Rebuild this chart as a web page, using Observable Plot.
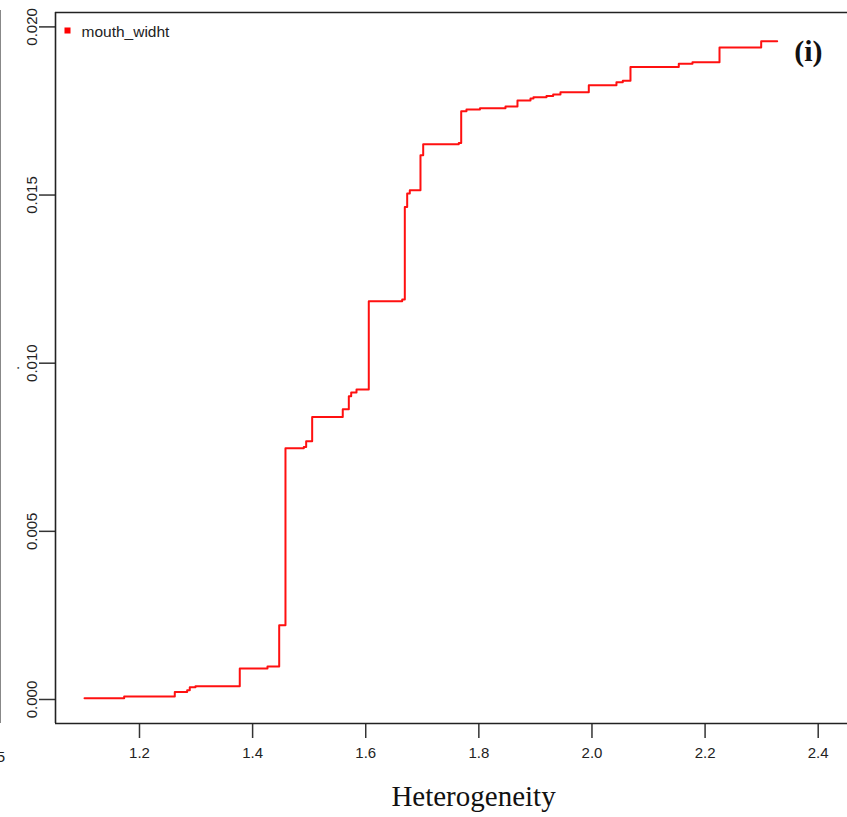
<!DOCTYPE html>
<html><head><meta charset="utf-8">
<script src="https://cdn.jsdelivr.net/npm/d3@7"></script>
<script src="https://cdn.jsdelivr.net/npm/@observablehq/plot@0.6"></script>
<style>
html,body{margin:0;padding:0;background:#fff;overflow:hidden;}
#wrap{position:relative;width:847px;height:817px;overflow:hidden;}
#edge{position:absolute;left:0;top:10px;width:0;height:713px;border-left:1.5px solid #888;}
#neighbor{position:absolute;right:842px;top:748px;font:15px "Liberation Sans",Arial,sans-serif;color:#222;white-space:nowrap;}
</style></head><body><div id="wrap"><div id="edge"></div><div id="neighbor">2.5</div></div>
<script>
const seriesName = "mouth_widht";
const heterogeneity = [1.1028,1.1729,1.2624,1.2843,1.2889,1.2990,1.3773,1.4263,1.4470,1.4581,1.4905,1.4947,1.5053,1.5594,1.5701,1.5743,1.5837,1.6054,1.6645,1.6691,1.6733,1.6779,1.6968,1.7016,1.7645,1.7688,1.7781,1.8020,1.8471,1.8683,1.8913,1.8966,1.9196,1.9314,1.9443,1.9944,2.0433,2.0545,2.0681,2.1535,2.1777,2.2255,2.2992,2.3275];
const mouthWidht = [0.000039,0.000089,0.000226,0.000277,0.000366,0.000395,0.000922,0.000981,0.002209,0.007473,0.007511,0.007681,0.008403,0.008632,0.009019,0.009129,0.009218,0.011844,0.011894,0.014648,0.015046,0.015144,0.016185,0.016512,0.016551,0.017493,0.017544,0.017583,0.017633,0.017812,0.017871,0.017910,0.017948,0.017990,0.018058,0.018267,0.018356,0.018400,0.018811,0.018906,0.018951,0.019387,0.019575,0.019575];
const xTicks = [1.2,1.4,1.6,1.8,2.0,2.2,2.4];
const yTicks = [0,0.005,0.010,0.015,0.020];
const xLabel = "Heterogeneity";
const yLabel = ".";
const panelTag = "(i)";

const xDomain = [1.0515, 2.4518];
const yDomain = [-0.000714, 0.020428];
const data = heterogeneity.map((x, i) => ({x, y: mouthWidht[i]}));

const plot = Plot.plot({
  width: 847, height: 817,
  marginLeft: 55, marginRight: 0, marginTop: 12, marginBottom: 94,
  style: {fontFamily: '"Liberation Sans", Arial, sans-serif', fontSize: "15px", color: "#222", background: "transparent", overflow: "visible"},
  x: {domain: xDomain},
  y: {domain: yDomain},
  marks: [
    Plot.axisX({ticks: xTicks, tickFormat: d3.format(".1f"), tickSize: 15, tickPadding: 9, fontSize: 15, strokeWidth: 1.5, stroke: "#333", fill: "#222", label: null}),
    Plot.axisY({ticks: yTicks, tickFormat: d3.format(".3f"), tickSize: 16, tickPadding: 3, tickRotate: -90, fontSize: 15, strokeWidth: 1.5, stroke: "#333", fill: "#222", label: null}),
    Plot.ruleX([xDomain[0]], {stroke: "#222", strokeWidth: 1.6}),
    Plot.ruleY([yDomain[0], yDomain[1]], {stroke: "#222", strokeWidth: 1.6}),
    Plot.line(data, {x: "x", y: "y", curve: "step-after", stroke: "#ff1010", strokeWidth: 2}),
    Plot.dot([seriesName], {frameAnchor: "top-left", dx: 12, dy: 18, symbol: "square", r: 3.4, fill: "#ff0000", stroke: "none"}),
    Plot.text([seriesName], {frameAnchor: "top-left", dx: 26, dy: 20, textAnchor: "start", lineAnchor: "middle", fontSize: 15.5, fill: "#222"}),
    Plot.text([panelTag], {frameAnchor: "top-right", dx: -25, dy: 27, textAnchor: "end", fontFamily: '"Liberation Serif", "Times New Roman", serif', fontWeight: "bold", fontSize: 30, fill: "#111"}),
    Plot.text([xLabel], {frameAnchor: "bottom", dx: 22, dy: 82, textAnchor: "middle", fontFamily: '"Liberation Serif", "Times New Roman", serif', fontSize: 29, fill: "#111"}),
    Plot.text([yLabel], {frameAnchor: "left", dx: -41, dy: 2, rotate: -90, fontSize: 15, fill: "#222"})
  ]
});
document.getElementById("wrap").prepend(plot);
plot.style.position = "absolute";
plot.style.left = "0";
plot.style.top = "0";
</script>
</body></html>
